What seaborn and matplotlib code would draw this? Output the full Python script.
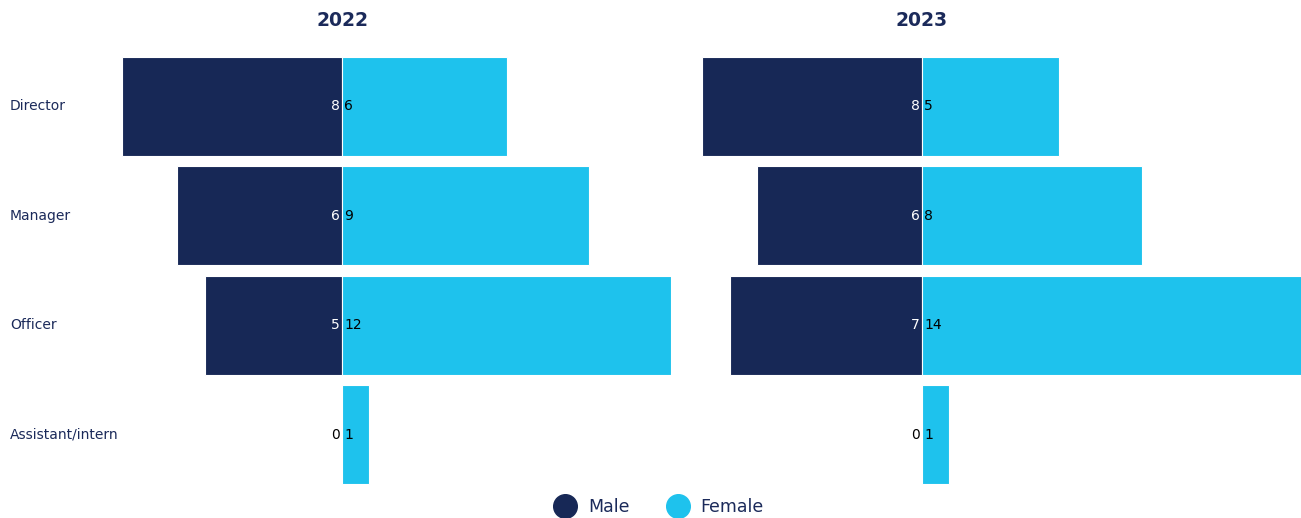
import numpy as np
import pandas as pd
import matplotlib
matplotlib.use("Agg")
import matplotlib.pyplot as plt
import matplotlib.transforms as mtrans
from matplotlib.lines import Line2D
import seaborn as sns

categories = ["Director", "Manager", "Officer", "Assistant/intern"]
years = ["2022", "2023"]
male_2022 = [8, 6, 5, 0]
female_2022 = [6, 9, 12, 1]
male_2023 = [8, 6, 7, 0]
female_2023 = [5, 8, 14, 1]

NAVY = "#172856"
CYAN = "#1EC2ED"
TEXT = "#1B2A5A"

sns.set_theme(style="white")
plt.rcParams["font.family"] = ["DejaVu Sans"]

W, H = 1301, 518
fig = plt.figure(figsize=(W / 100, H / 100), dpi=100)

unit = 27.45
top_px, bot_px = 51.5, 489.5
panels = [
    (years[0], male_2022, female_2022, 342, 8, 12),
    (years[1], male_2023, female_2023, 922, 8, 14),
]

for title, male, female, cx, lo, hi in panels:
    left_px = cx - lo * unit
    width_px = (lo + hi) * unit
    ax = fig.add_axes([left_px / W, 1 - bot_px / H, width_px / W, (bot_px - top_px) / H])
    df = pd.DataFrame({"cat": categories,
                       "male": [-m for m in male],
                       "female": female})
    sns.barplot(data=df, x="male", y="cat", color=NAVY, width=0.9, orient="h",
                ax=ax, edgecolor="white", linewidth=0.8, saturation=1)
    sns.barplot(data=df, x="female", y="cat", color=CYAN, width=0.9, orient="h",
                ax=ax, edgecolor="white", linewidth=0.8, saturation=1)
    ax.set_xlim(-lo, hi)
    ax.set_ylim(3.5, -0.5)
    ax.set_xlabel("")
    ax.set_ylabel("")
    ax.set_xticks([])
    ax.set_yticks([])
    for s in ax.spines.values():
        s.set_visible(False)
    ax.patch.set_alpha(0)
    off = 2.0 / unit
    for i, (m, f) in enumerate(zip(male, female)):
        ax.text(-off, i, str(m), ha="right", va="center", fontsize=10,
                color="white" if m > 0 else "black")
        ax.text(off, i, str(f), ha="left", va="center", fontsize=10,
                color="black")
    ax.text(0, 1 + (top_px - 21) / (bot_px - top_px), title,
            transform=mtrans.blended_transform_factory(ax.transData, ax.transAxes),
            ha="center", va="center", fontsize=13.5, fontweight="bold", color=TEXT)
    if cx == 342:
        tr = mtrans.blended_transform_factory(fig.transFigure, ax.transData)
        for i, c in enumerate(categories):
            ax.text(10 / W, i, c, transform=tr, ha="left", va="center",
                    fontsize=10, color=TEXT)

handles = [Line2D([], [], marker="o", linestyle="", markersize=17, color=NAVY),
           Line2D([], [], marker="o", linestyle="", markersize=17, color=CYAN)]
leg = fig.legend(handles, ["Male", "Female"], loc="center", bbox_to_anchor=(656 / W, 1 - 507 / H),
                 ncol=2, frameon=False, fontsize=12.5, handletextpad=0.3, columnspacing=1.8,
                 labelcolor=TEXT)

fig.savefig("out.png", dpi=100)
